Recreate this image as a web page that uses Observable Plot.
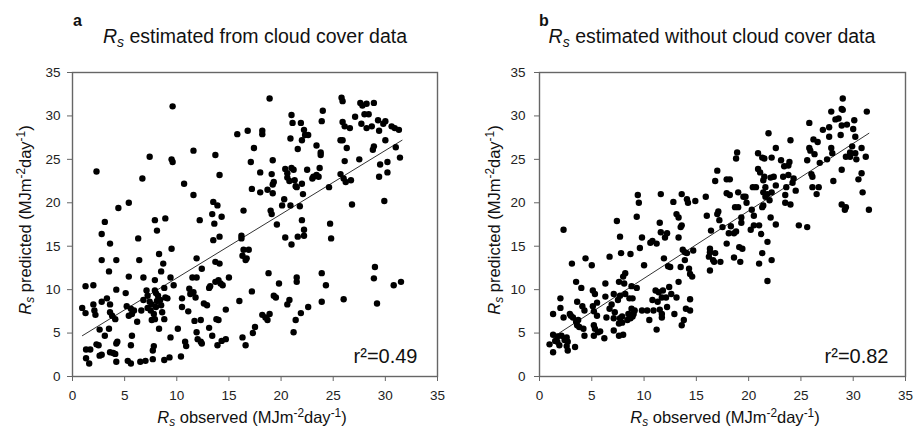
<!DOCTYPE html>
<html>
<head>
<meta charset="utf-8">
<script src="https://cdn.jsdelivr.net/npm/d3@7"></script>
<script src="https://cdn.jsdelivr.net/npm/@observablehq/plot@0.6"></script>
<style>
  html, body { margin: 0; padding: 0; background: #fff; }
  #wrap { position: relative; width: 914px; height: 430px; overflow: hidden;
          font-family: "Liberation Sans", Arial, sans-serif; color: #111; }
  #wrap svg { position: absolute; top: 0; }
  .lbl { position: absolute; white-space: nowrap; line-height: 1; }
  .sub { font-size: 0.72em; position: relative; top: 0.28em; }
  .sup { font-size: 0.72em; position: relative; top: -0.5em; }
</style>
</head>
<body>
<div id="wrap"></div>
<script>
// ---------- data ----------
const panelLetters = ["a", "b"];
const panelTitles = ["estimated from cloud cover data", "estimated without cloud cover data"];
const r2Labels = ["r\u00b2=0.49", "r\u00b2=0.82"];
const axisTicks = [0, 5, 10, 15, 20, 25, 30, 35];

// [Rs observed, Rs predicted] — panel a (from cloud cover data)
const pointsA = [
[0.93,7.9],[1.25,7.3],[1.25,10.4],[2.0,10.5],[1.3,3.1],[1.3,2.1],[1.6,1.5],[1.7,3.1],[2.0,8.3],[2.1,7.6],
[2.2,7.1],[2.3,3.7],[2.5,3.6],[2.6,2.4],[2.8,2.5],[2.8,16.4],[2.8,13.4],[3.1,17.8],[2.8,8.6],[2.6,5.4],
[3.1,4.7],[3.3,9.0],[3.5,5.5],[3.5,12.1],[3.6,15.3],[3.6,8.3],[3.6,7.4],[3.8,7.0],[3.6,2.8],[3.9,2.7],
[4.1,6.6],[4.1,2.6],[4.2,3.8],[4.3,4.0],[4.2,1.7],[4.2,10.0],[4.2,13.4],[4.4,19.4],[5.1,9.6],[5.2,8.1],
[5.4,11.5],[5.4,20.0],[5.3,1.8],[5.6,1.5],[5.6,3.6],[5.7,4.7],[5.4,7.0],[5.6,7.8],[5.7,7.2],[5.9,7.6],
[6.2,6.3],[6.3,15.9],[6.4,13.4],[6.5,1.7],[7.0,1.8],[6.6,7.6],[6.8,11.4],[6.8,8.8],[7.1,9.9],[7.2,7.9],
[7.2,9.3],[7.5,7.6],[7.6,6.5],[7.7,2.0],[7.7,3.0],[7.8,3.5],[7.9,9.9],[7.9,18.0],[7.9,11.1],[7.9,6.6],
[8.1,8.7],[8.1,16.8],[8.3,5.5],[8.3,14.1],[8.4,8.8],[8.5,12.1],[8.6,7.4],[8.7,13.0],[8.8,6.6],[8.8,10.2],
[8.8,1.9],[8.9,18.2],[8.9,9.1],[9.1,9.0],[9.3,2.2],[9.4,4.5],[9.5,14.7],[9.4,11.4],[9.7,10.5],[10.1,5.5],
[10.4,2.3],[10.5,9.0],[10.5,8.0],[10.8,4.0],[10.9,3.5],[11.1,7.5],[11.2,10.1],[11.3,9.5],[11.5,11.4],[11.6,9.7],
[11.7,6.4],[11.8,9.1],[11.9,11.4],[11.9,13.6],[11.9,5.1],[12.0,4.3],[12.2,18.0],[12.3,6.5],[12.3,4.0],[12.4,12.4],
[12.4,3.8],[12.6,8.4],[12.9,8.2],[13.1,10.2],[13.1,5.6],[13.2,10.4],[13.4,4.7],[13.4,18.7],[13.5,15.7],[13.6,17.6],
[13.5,20.1],[13.7,13.2],[13.7,10.9],[13.8,6.6],[13.9,19.7],[13.9,3.6],[14.0,11.1],[14.0,6.5],[14.1,16.1],[14.1,13.0],
[14.2,10.7],[14.3,4.1],[14.3,18.4],[14.4,10.5],[14.7,4.3],[14.7,7.7],[15.0,11.4],[16.0,8.7],[16.2,16.2],[16.2,15.9],
[16.3,4.5],[16.3,13.9],[16.4,19.1],[16.4,14.6],[16.6,13.4],[16.6,3.6],[16.7,13.6],[16.9,14.6],[17.2,9.8],[17.3,5.0],
[17.5,5.7],[18.2,7.1],[18.5,6.8],[18.7,6.5],[18.8,11.9],[18.9,7.2],[19.0,19.1],[19.1,18.7],[19.3,9.3],[19.5,9.1],
[19.6,17.5],[19.8,10.7],[20.1,19.7],[20.4,16.0],[20.6,8.3],[20.8,8.8],[20.9,19.7],[21.0,15.2],[21.2,5.1],[21.4,6.5],
[21.5,11.4],[21.5,10.9],[21.6,16.1],[21.8,19.6],[21.9,7.3],[22.0,18.0],[22.2,16.9],[22.2,16.2],[22.6,8.0],[23.9,11.9],
[23.9,8.6],[24.3,10.5],[24.7,17.6],[24.8,15.9],[26.0,8.9],[26.8,19.8],[28.9,11.3],[29.0,12.6],[29.2,8.4],[29.9,20.2],
[30.8,10.5],[31.5,10.9],[7.6,8.3],[8.0,8.0],[8.2,9.3],[7.8,7.2],[8.5,8.2],[7.4,8.6],[8.0,9.6],
[2.3,23.6],[6.7,22.8],[7.4,25.3],[9.6,31.1],[9.5,25.0],[9.6,24.7],[10.7,22.2],[11.6,26.0],[11.6,20.9],[13.7,25.5],
[14.1,23.2],[15.8,27.9],[16.8,28.3],[17.1,24.7],[17.2,21.6],[17.4,26.3],[18.0,21.2],[18.0,23.5],[18.2,28.3],[18.2,27.9],
[18.7,21.5],[18.9,32.0],[19.1,23.3],[19.2,24.9],[19.2,22.1],[19.2,21.1],[19.3,22.4],[20.3,20.4],[20.4,23.9],[20.6,23.4],
[20.6,22.9],[20.9,27.4],[21.0,30.1],[21.1,29.2],[20.8,22.5],[21.0,24.0],[21.2,23.8],[21.3,22.6],[21.4,21.9],[21.6,26.2],
[21.5,21.8],[21.9,29.2],[22.0,27.2],[22.0,22.2],[22.1,21.0],[22.2,28.4],[22.3,27.8],[22.5,23.8],[22.6,27.8],[23.0,22.8],
[23.1,23.0],[23.4,26.6],[23.4,23.2],[23.6,23.0],[23.7,24.0],[23.8,25.8],[23.8,25.5],[23.9,29.4],[24.0,30.6],[24.6,21.8],
[25.7,27.2],[25.7,23.3],[25.8,32.1],[25.9,31.7],[25.9,27.2],[25.9,29.3],[26.0,22.8],[26.1,28.8],[26.1,24.8],[26.2,22.4],
[26.3,26.3],[26.6,28.6],[26.7,22.6],[27.1,29.9],[27.5,25.0],[27.6,31.5],[27.7,29.1],[27.8,31.2],[28.0,30.2],[28.2,31.4],
[28.2,28.6],[28.4,30.2],[28.7,28.8],[28.8,26.1],[28.9,26.5],[28.9,31.5],[29.3,29.5],[29.4,28.3],[29.4,23.0],[29.5,24.4],
[29.8,29.1],[30.0,29.4],[30.0,27.2],[30.2,24.7],[30.2,23.5],[30.6,28.8],[30.9,28.6],[31.0,26.4],[31.3,28.4],[31.4,25.2]
];

// [Rs observed, Rs predicted] — panel b (without cloud cover data)
const pointsB = [
[0.96,3.7],[1.3,2.8],[1.3,4.8],[1.3,7.2],[1.5,4.1],[1.7,4.6],[1.7,4.0],[1.9,3.6],[2.0,9.0],[2.0,7.9],
[2.1,4.7],[2.3,16.9],[2.3,6.8],[2.4,4.2],[2.6,4.5],[2.6,3.5],[2.7,4.0],[2.7,3.0],[2.9,7.2],[3.0,7.0],
[3.1,13.0],[3.2,6.8],[3.4,3.4],[3.5,10.9],[3.5,6.3],[3.6,8.6],[3.6,5.9],[3.7,6.5],[3.8,5.7],[4.0,10.2],
[4.1,8.1],[4.2,5.5],[4.3,4.7],[4.3,7.6],[4.4,13.6],[5.0,12.8],[5.1,9.9],[5.1,8.1],[5.2,5.9],[5.2,7.5],
[5.2,4.7],[5.3,9.5],[5.3,5.5],[5.5,8.5],[5.5,7.0],[5.6,5.1],[5.8,5.2],[6.2,4.4],[6.3,10.7],[6.3,9.2],
[6.4,6.8],[6.7,13.8],[6.7,7.8],[6.9,8.3],[7.1,6.7],[7.1,5.3],[7.1,9.5],[7.2,7.4],[7.4,17.9],[7.5,8.8],
[7.6,10.9],[7.6,6.1],[7.6,4.7],[7.7,16.1],[7.7,6.7],[7.7,9.3],[7.8,14.2],[7.9,6.9],[7.9,6.2],[8.0,4.8],
[8.0,11.5],[8.1,10.7],[8.2,11.9],[8.2,9.5],[8.4,6.5],[8.5,7.2],[8.6,9.0],[8.7,6.7],[8.7,14.1],[8.8,10.4],
[8.8,7.8],[8.9,9.0],[8.9,6.9],[9.0,7.2],[9.1,7.6],[9.3,10.2],[9.3,18.4],[9.5,20.0],[9.6,14.8],[9.8,16.0],
[9.8,7.6],[10.0,12.8],[10.3,7.6],[10.5,6.5],[10.6,15.4],[10.8,15.6],[10.8,8.8],[10.9,7.6],[11.1,9.9],[11.2,15.3],
[11.2,5.4],[11.3,8.6],[11.4,9.7],[11.5,7.7],[11.5,17.7],[11.6,16.6],[11.7,7.2],[11.7,9.1],[11.7,6.8],[11.8,9.9],
[11.9,13.6],[12.0,16.0],[12.1,9.1],[12.2,16.5],[12.2,8.0],[12.3,12.7],[12.4,10.3],[12.5,12.6],[12.6,9.5],[12.8,20.1],
[12.9,7.2],[13.1,18.7],[13.1,9.1],[13.3,18.3],[13.3,16.0],[13.3,10.9],[13.5,17.2],[13.5,12.6],[13.6,17.4],[13.6,5.9],
[13.7,14.6],[13.8,6.5],[13.9,14.3],[13.9,13.4],[14.1,14.2],[14.0,7.8],[14.2,20.0],[14.3,12.4],[14.4,7.6],[14.4,11.8],
[14.4,8.9],[14.6,11.5],[14.7,14.5],[14.9,20.2],[16.0,18.5],[16.2,13.8],[16.3,14.3],[16.3,12.2],[16.3,14.7],[16.4,16.8],
[16.6,13.4],[16.7,13.2],[16.8,14.2],[17.0,18.7],[17.1,19.0],[17.2,18.0],[17.3,13.2],[17.5,17.2],[17.9,15.3],[18.1,16.5],
[18.3,17.3],[18.6,16.5],[18.6,13.7],[18.7,19.5],[18.8,16.7],[19.0,19.5],[19.1,14.9],[19.2,13.2],[19.3,18.3],[19.3,17.7],
[19.4,14.7],[19.8,20.0],[20.2,16.9],[20.3,19.2],[20.5,18.5],[20.5,17.4],[21.0,13.0],[21.0,17.4],[21.2,16.4],[21.3,14.2],
[21.3,19.5],[21.4,19.7],[21.8,11.0],[21.8,15.5],[22.1,18.3],[22.2,13.4],[22.6,17.5],[23.5,20.0],[24.0,19.8],[24.8,17.4],
[25.6,17.2],[28.9,19.8],[29.2,19.2],[29.3,19.5],[31.5,19.2],
[9.4,20.9],[11.6,21.0],[13.6,21.0],[14.1,20.4],[15.9,20.7],[16.8,22.5],[17.0,23.7],[17.9,22.7],[18.2,22.7],[17.9,21.1],
[18.2,20.9],[18.8,25.1],[18.9,25.8],[19.0,21.2],[19.5,20.7],[19.7,20.7],[20.4,21.8],[20.7,21.8],[20.9,23.9],[20.9,25.7],
[21.1,23.5],[21.3,25.2],[21.4,22.6],[21.4,21.2],[21.5,25.1],[21.5,23.0],[21.6,21.8],[21.6,20.7],[21.8,21.0],[21.9,28.0],
[22.0,20.3],[22.1,22.9],[22.2,25.2],[22.2,21.2],[22.4,23.0],[22.6,26.3],[22.6,22.0],[23.1,24.9],[23.3,23.0],[23.4,24.2],
[23.5,20.9],[23.6,21.8],[23.8,24.3],[23.8,23.2],[23.9,24.7],[24.0,27.2],[24.2,22.3],[24.3,22.8],[24.5,21.4],[25.6,24.9],
[25.8,26.3],[25.8,29.2],[25.9,26.0],[26.0,23.3],[26.1,23.0],[26.1,21.8],[26.2,27.3],[26.3,25.6],[26.5,21.0],[26.7,21.8],
[26.6,27.0],[26.8,24.6],[27.1,28.4],[27.5,25.0],[27.7,27.6],[27.7,28.7],[27.9,30.5],[27.9,26.3],[28.0,25.7],[28.1,22.5],
[28.3,29.6],[28.6,29.7],[28.8,27.8],[28.9,23.8],[28.9,28.9],[28.9,30.8],[29.0,32.0],[29.0,30.7],[29.3,25.3],[29.4,29.0],
[29.7,25.8],[29.7,25.3],[29.9,26.5],[30.0,28.5],[30.1,29.5],[30.2,27.6],[30.2,25.7],[30.3,25.0],[30.5,22.7],[30.8,26.3],
[30.8,23.4],[30.9,21.2],[31.2,25.3],[31.3,30.5]
];

// regression line end points [observed, predicted]
const fitA = [[0.95, 4.7], [31.6, 27.2]];
const fitB = [[1.5, 4.7], [31.5, 28.0]];

// ---------- drawing ----------
const FONT = '"Liberation Sans", Arial, sans-serif';
const wrap = document.getElementById("wrap");

function panel(points, fit, r2, opts) {
  const data = points.map(([o, p]) => ({obs: o, pred: p}));
  const line = fit.map(([o, p]) => ({obs: o, pred: p}));
  const svg = Plot.plot({
    width: opts.width, height: 430,
    marginLeft: opts.ml, marginRight: opts.mr, marginTop: 72, marginBottom: 54,
    style: {fontFamily: FONT, fontSize: "13.5px", color: "#222", background: "transparent"},
    x: {domain: [0, 35]},
    y: {domain: [0, 35]},
    marks: [
      Plot.axisX({ticks: axisTicks, tickSize: 5, tickPadding: 9, label: null, stroke: "#666", fill: "#222"}),
      Plot.axisY({ticks: axisTicks, tickSize: 5, tickPadding: opts.typ, label: null, stroke: "#666", fill: "#222"}),
      Plot.line(line, {x: "obs", y: "pred", stroke: "#333", strokeWidth: 1}),
      Plot.dot(data, {x: "obs", y: "pred", r: 3.2, fill: "#000", stroke: "none"}),
      Plot.frame({stroke: "#666", strokeWidth: 1.4}),
      Plot.text([r2], {text: d => d, frameAnchor: "bottom-right", dx: opts.r2dx, dy: -14,
        textAnchor: "end", lineAnchor: "bottom", fontSize: 20, fill: "#111"})
    ]
  });
  svg.style.left = opts.left + "px";
  wrap.appendChild(svg);
}

panel(pointsA, fitA, r2Labels[0], {left: 0, width: 460, ml: 72, mr: 23, typ: 7, r2dx: -20});
panel(pointsB, fitB, r2Labels[1], {left: 460, width: 454, ml: 79, mr: 9, typ: 9, r2dx: -17});

const Rs = '<i>R</i><span class="sub"><i>s</i></span>';
const unit = '(MJm<span class="sup">-2</span>day<span class="sup">-1</span>)';

function label(html, css) {
  const d = document.createElement("div");
  d.className = "lbl";
  d.innerHTML = html;
  Object.assign(d.style, css);
  wrap.appendChild(d);
  return d;
}

const layout = [
  {letterX: 73, titleX: 255, xlabX: 252, ylabX: 24.5},
  {letterX: 539, titleX: 712, xlabX: 725, ylabX: 493.5}
];
layout.forEach((L, i) => {
  label(panelLetters[i], {left: L.letterX + "px", top: "13px", fontSize: "16px", fontWeight: "bold"});
  label(Rs + " " + panelTitles[i], {left: L.titleX + "px", top: "27px", fontSize: "19.5px", transform: "translateX(-50%)"});
  label(Rs + " observed " + unit, {left: L.xlabX + "px", top: "409px", fontSize: "16.5px", transform: "translateX(-50%)"});
  label(Rs + " predicted " + unit, {left: L.ylabX + "px", top: "220px", fontSize: "16.5px",
    transform: "translate(-50%, -50%) rotate(-90deg)"});
});
</script>
</body>
</html>
